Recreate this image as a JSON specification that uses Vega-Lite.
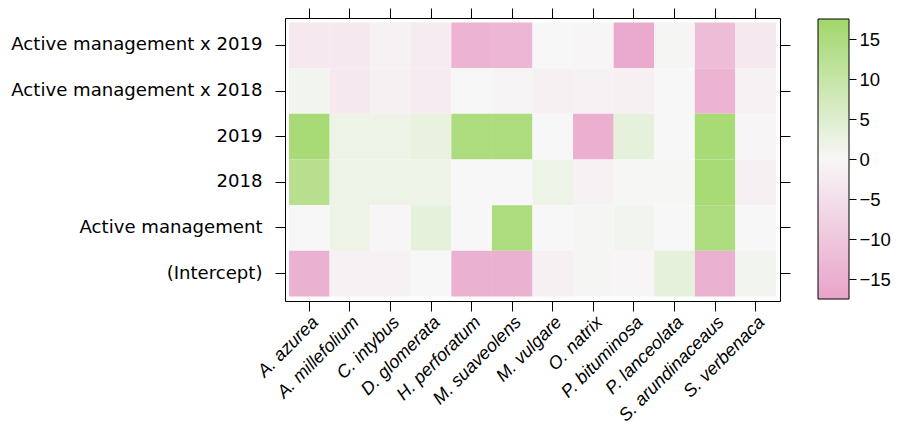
{
  "$schema": "https://vega.github.io/schema/vega-lite/v6.json",
  "padding": {"left": 10, "top": 7, "right": 0, "bottom": 0},
  "background": "white",
  "config": {
    "view": {"stroke": "black", "strokeWidth": 1},
    "axis": {"grid": false, "domain": false, "tickColor": "black", "tickWidth": 1, "labelColor": "black", "title": null}
  },
  "spacing": 26,
  "hconcat": [
    {
      "width": 495,
      "height": 283,
      "data": {"values": [
        {"term": "Active management x 2019", "species": "A. azurea", "value": -3},
        {"term": "Active management x 2019", "species": "A. millefolium", "value": -3},
        {"term": "Active management x 2019", "species": "C. intybus", "value": -1},
        {"term": "Active management x 2019", "species": "D. glomerata", "value": -2.5},
        {"term": "Active management x 2019", "species": "H. perforatum", "value": -14},
        {"term": "Active management x 2019", "species": "M. suaveolens", "value": -13.5},
        {"term": "Active management x 2019", "species": "M. vulgare", "value": 0},
        {"term": "Active management x 2019", "species": "O. natrix", "value": -0.5},
        {"term": "Active management x 2019", "species": "P. bituminosa", "value": -16},
        {"term": "Active management x 2019", "species": "P. lanceolata", "value": 0.5},
        {"term": "Active management x 2019", "species": "S. arundinaceaus", "value": -12},
        {"term": "Active management x 2019", "species": "S. verbenaca", "value": -3},
        {"term": "Active management x 2018", "species": "A. azurea", "value": 1},
        {"term": "Active management x 2018", "species": "A. millefolium", "value": -3},
        {"term": "Active management x 2018", "species": "C. intybus", "value": -1.5},
        {"term": "Active management x 2018", "species": "D. glomerata", "value": -2.5},
        {"term": "Active management x 2018", "species": "H. perforatum", "value": 0},
        {"term": "Active management x 2018", "species": "M. suaveolens", "value": -0.7},
        {"term": "Active management x 2018", "species": "M. vulgare", "value": -1.5},
        {"term": "Active management x 2018", "species": "O. natrix", "value": -1},
        {"term": "Active management x 2018", "species": "P. bituminosa", "value": -1.5},
        {"term": "Active management x 2018", "species": "P. lanceolata", "value": 0},
        {"term": "Active management x 2018", "species": "S. arundinaceaus", "value": -14},
        {"term": "Active management x 2018", "species": "S. verbenaca", "value": -1},
        {"term": "2019", "species": "A. azurea", "value": 16},
        {"term": "2019", "species": "A. millefolium", "value": 2},
        {"term": "2019", "species": "C. intybus", "value": 2},
        {"term": "2019", "species": "D. glomerata", "value": 3},
        {"term": "2019", "species": "H. perforatum", "value": 15},
        {"term": "2019", "species": "M. suaveolens", "value": 15},
        {"term": "2019", "species": "M. vulgare", "value": 0},
        {"term": "2019", "species": "O. natrix", "value": -15},
        {"term": "2019", "species": "P. bituminosa", "value": 3.5},
        {"term": "2019", "species": "P. lanceolata", "value": 0},
        {"term": "2019", "species": "S. arundinaceaus", "value": 16},
        {"term": "2019", "species": "S. verbenaca", "value": -0.5},
        {"term": "2018", "species": "A. azurea", "value": 13},
        {"term": "2018", "species": "A. millefolium", "value": 2},
        {"term": "2018", "species": "C. intybus", "value": 2},
        {"term": "2018", "species": "D. glomerata", "value": 2},
        {"term": "2018", "species": "H. perforatum", "value": 0},
        {"term": "2018", "species": "M. suaveolens", "value": 0},
        {"term": "2018", "species": "M. vulgare", "value": 2},
        {"term": "2018", "species": "O. natrix", "value": -1},
        {"term": "2018", "species": "P. bituminosa", "value": 0.3},
        {"term": "2018", "species": "P. lanceolata", "value": 0.3},
        {"term": "2018", "species": "S. arundinaceaus", "value": 16},
        {"term": "2018", "species": "S. verbenaca", "value": -1.5},
        {"term": "Active management", "species": "A. azurea", "value": 0},
        {"term": "Active management", "species": "A. millefolium", "value": 2},
        {"term": "Active management", "species": "C. intybus", "value": -0.5},
        {"term": "Active management", "species": "D. glomerata", "value": 3.5},
        {"term": "Active management", "species": "H. perforatum", "value": 0},
        {"term": "Active management", "species": "M. suaveolens", "value": 15},
        {"term": "Active management", "species": "M. vulgare", "value": 0},
        {"term": "Active management", "species": "O. natrix", "value": 0.5},
        {"term": "Active management", "species": "P. bituminosa", "value": 1},
        {"term": "Active management", "species": "P. lanceolata", "value": 0},
        {"term": "Active management", "species": "S. arundinaceaus", "value": 15},
        {"term": "Active management", "species": "S. verbenaca", "value": 0},
        {"term": "(Intercept)", "species": "A. azurea", "value": -14.5},
        {"term": "(Intercept)", "species": "A. millefolium", "value": -1},
        {"term": "(Intercept)", "species": "C. intybus", "value": -1},
        {"term": "(Intercept)", "species": "D. glomerata", "value": 0},
        {"term": "(Intercept)", "species": "H. perforatum", "value": -14.5},
        {"term": "(Intercept)", "species": "M. suaveolens", "value": -14.5},
        {"term": "(Intercept)", "species": "M. vulgare", "value": -1.5},
        {"term": "(Intercept)", "species": "O. natrix", "value": 0.5},
        {"term": "(Intercept)", "species": "P. bituminosa", "value": -0.5},
        {"term": "(Intercept)", "species": "P. lanceolata", "value": 3.5},
        {"term": "(Intercept)", "species": "S. arundinaceaus", "value": -14.5},
        {"term": "(Intercept)", "species": "S. verbenaca", "value": 1}
      ]},
      "layer": [
        {
          "mark": {"type": "rect"},
          "encoding": {
            "x": {"field": "species", "type": "nominal", "sort": null,
                  "scale": {"paddingInner": 0, "paddingOuter": 0.1},
                  "axis": {"orient": "bottom", "labelAngle": -45, "labelFont": "Liberation Sans", "labelFontStyle": "italic", "labelFontSize": 18, "tickSize": 10, "labelPadding": 2, "labelLimit": 400}},
            "y": {"field": "term", "type": "nominal",
                  "sort": ["Active management x 2019", "Active management x 2018", "2019", "2018", "Active management", "(Intercept)"],
                  "scale": {"paddingInner": 0, "paddingOuter": 0.1},
                  "axis": {"orient": "left", "labelFont": "DejaVu Sans", "labelFontSize": 18.1, "tickSize": 10, "labelPadding": 13, "labelLimit": 400}},
            "color": {"field": "value", "type": "quantitative",
                      "scale": {"domain": [-17.5, 0, 17.5], "range": ["#E9A3C9", "#F7F7F7", "#A1D76A"], "interpolate": "rgb"},
                      "legend": null}
          }
        },
        {
          "mark": {"type": "rect", "opacity": 0},
          "encoding": {
            "x": {"field": "species", "type": "nominal", "sort": null,
                  "axis": {"orient": "top", "labels": false, "tickSize": 10}},
            "y": {"field": "term", "type": "nominal",
                  "sort": ["Active management x 2019", "Active management x 2018", "2019", "2018", "Active management", "(Intercept)"],
                  "axis": {"orient": "right", "labels": false, "tickSize": 10}}
          }
        }
      ],
      "resolve": {"axis": {"x": "independent", "y": "independent"}}
    },
    {
      "width": 31,
      "height": 283,
      "view": {"stroke": null},
      "data": {"values": [{"lo": -17.5, "hi": 17.5}]},
      "mark": {"type": "rect", "color": {"gradient": "linear", "x1": 0, "y1": 1, "x2": 0, "y2": 0,
        "stops": [{"offset": 0, "color": "#E9A3C9"}, {"offset": 0.5, "color": "#F7F7F7"}, {"offset": 1, "color": "#A1D76A"}]},
        "stroke": "black", "strokeWidth": 1},
      "encoding": {
        "y": {"field": "lo", "type": "quantitative", "scale": {"domain": [-17.75, 17.625], "nice": false, "zero": false},
              "axis": {"orient": "right", "values": [-15, -10, -5, 0, 5, 10, 15], "tickSize": 7, "labelFont": "Liberation Sans", "labelFontSize": 18.5, "labelPadding": 3}},
        "y2": {"field": "hi"}
      }
    }
  ]
}
